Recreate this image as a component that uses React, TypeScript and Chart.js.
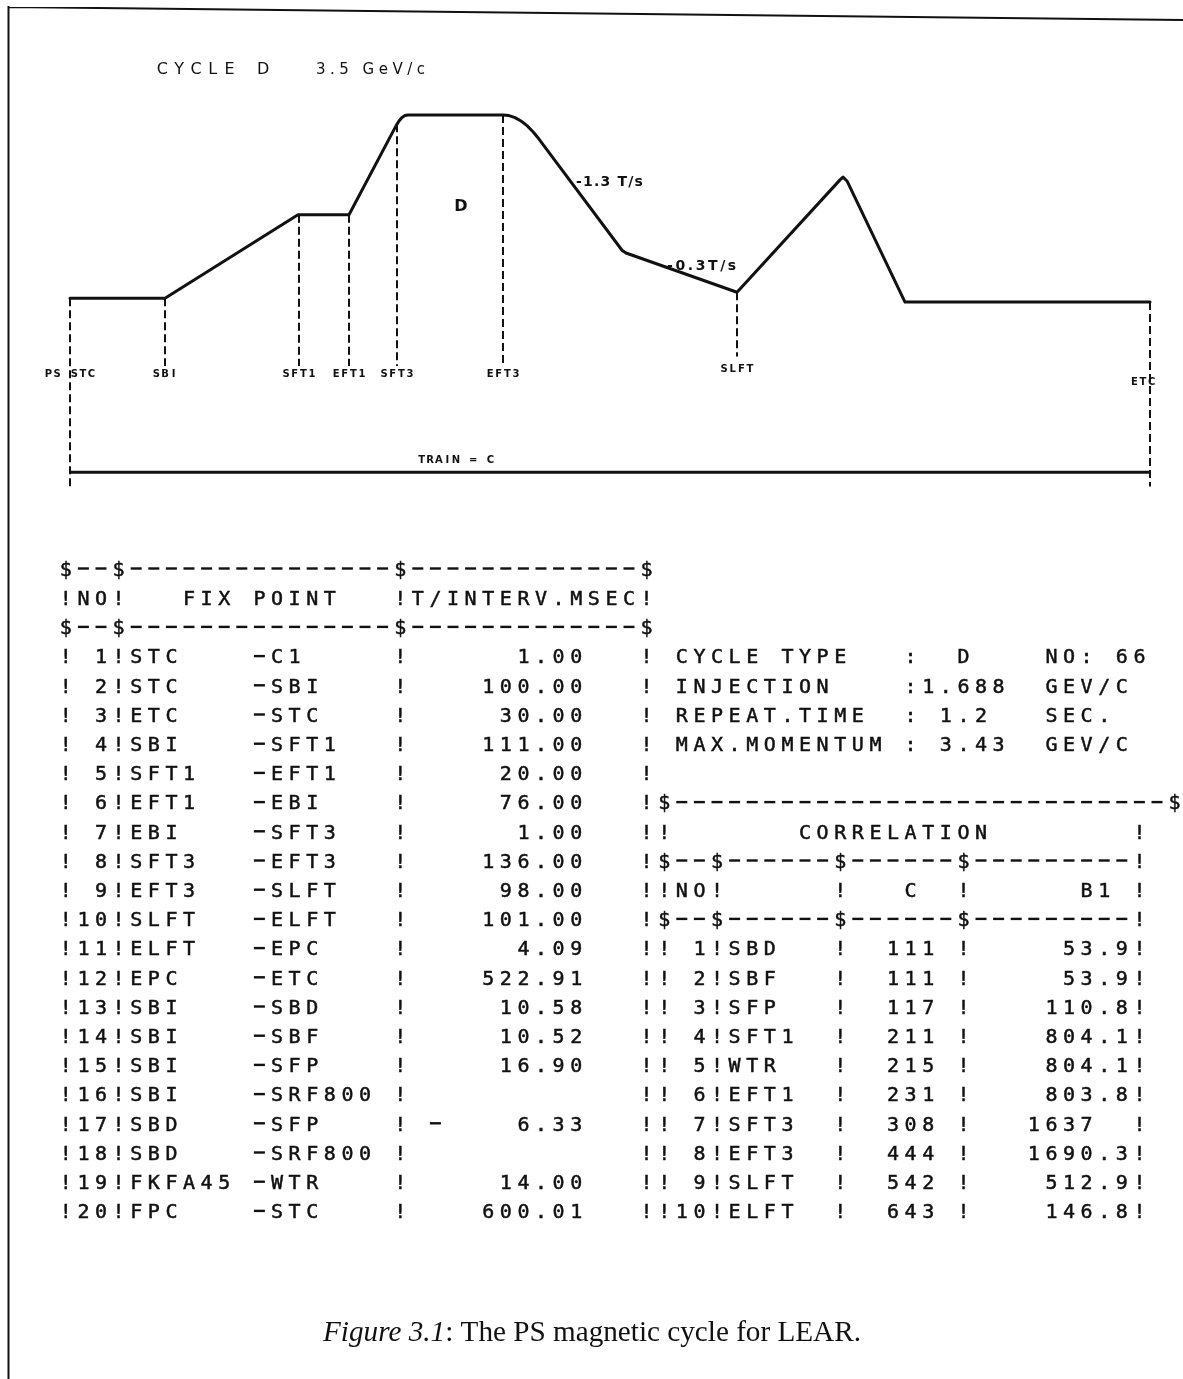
import React, { useEffect, useRef } from "react";
import { Chart, registerables } from "chart.js";
Chart.register(...registerables);

// ---------------- cycle curve (schematic time axis, field level) ----------------
const cycleTime = [0, 95, 228, 279, 326, 329, 332, 335, 338, 433, 439, 445, 451, 457, 463, 469, 552, 556, 667, 770, 773, 777, 835, 1080];
const cycleField = [0.07, 0.07, 1.6, 1.6, 3.23, 3.32, 3.385, 3.42, 3.43, 3.43, 3.418, 3.381, 3.32, 3.234, 3.123, 2.988, 0.95, 0.9, 0.18, 2.24, 2.29, 2.22, 0, 0];

// fix-point markers (dashed verticals)
const markerNames = ["PS STC", "SBI", "SFT1", "EFT1", "SFT3", "EFT3", "SLFT", "ETC"];
const markerTime = [0, 95, 229, 279, 327, 433, 667, 1080];
const markerTop = [0.07, 0.07, 1.6, 1.6, 3.26, 3.43, 0.18, 0];
const markerBottom = [-3.42, -1.17, -1.17, -1.17, -1.17, -1.17, -1.0, -3.38];
const markerLabelLevel = [-1.3, -1.3, -1.3, -1.3, -1.3, -1.3, -1.21, -1.45];

// repetition span arrow
const spanTime = [0, 1080];
const spanLevel = -3.12;
const spanLabel = "TRAIN = C";
const spanLabelTime = 386;
const spanLabelLevel = -2.88;

// ramp-rate annotations
const rateLabels = ["-1.3 T/s", "-0.3T/s"];
const rateTime = [506, 597];
const rateLevel = [2.22, 0.68];
const flatTopLabel = "D";
const flatTopTime = 391;
const flatTopLevel = 1.78;

// ---------------- left table: fix points ----------------
const fixFrom = ["STC", "STC", "ETC", "SBI", "SFT1", "EFT1", "EBI", "SFT3", "EFT3", "SLFT", "ELFT", "EPC", "SBI", "SBI", "SBI", "SBI", "SBD", "SBD", "FKFA45", "FPC"];
const fixTo = ["C1", "SBI", "STC", "SFT1", "EFT1", "EBI", "SFT3", "EFT3", "SLFT", "ELFT", "EPC", "ETC", "SBD", "SBF", "SFP", "SRF800", "SFP", "SRF800", "WTR", "STC"];
const intervalMs: (number | null)[] = [1.0, 100.0, 30.0, 111.0, 20.0, 76.0, 1.0, 136.0, 98.0, 101.0, 4.09, 522.91, 10.58, 10.52, 16.9, null, 6.33, null, 14.0, 600.01];

// ---------------- right block: cycle info ----------------
const infoLabels = ["CYCLE TYPE", "INJECTION", "REPEAT.TIME", "MAX.MOMENTUM"];
const infoValues = ["  D", "1.688", " 1.2", " 3.43"];
const infoUnits = ["NO:", "GEV/C", "SEC.", "GEV/C"];
const cycleNumber = 66;

// ---------------- correlation table ----------------
const corrNames = ["SBD", "SBF", "SFP", "SFT1", "WTR", "EFT1", "SFT3", "EFT3", "SLFT", "ELFT"];
const corrC = [111, 111, 117, 211, 215, 231, 308, 444, 542, 643];
const corrB1 = [53.9, 53.9, 110.8, 804.1, 804.1, 803.8, 1637, 1690.3, 512.9, 146.8];

const W = 1183;
const H = 1379;
const INK = "#111";
const MONO = "'DejaVu Sans Mono', 'Liberation Mono', monospace";
const SANS = "'DejaVu Sans', 'Liberation Sans', sans-serif";
const SERIF = "'Liberation Serif', 'DejaVu Serif', serif";

const GRID_X0 = 57;
const CELL = 17.6;
const ROW_Y0 = 568.5;
const ROW_H = 29.2;

function buildTableLines(): string[] {
  const rows: string[][] = [];
  for (let k = 0; k < 23; k++) rows.push(new Array(64).fill(" "));
  const put = (k: number, col: number, s: string) => {
    for (let i = 0; i < s.length; i++) rows[k][col + i] = s[i];
  };
  const sep = "$--$" + "-".repeat(15) + "$" + "-".repeat(13) + "$";
  put(0, 0, sep);
  put(1, 0, "!NO!   FIX POINT   !T/INTERV.MSEC!");
  put(2, 0, sep);
  for (let i = 0; i < fixFrom.length; i++) {
    const v = intervalMs[i];
    const val = v === null ? "" : v.toFixed(2);
    const line =
      "!" + String(i + 1).padStart(2) + "!" + fixFrom[i].padEnd(7) + "-" + fixTo[i].padEnd(7) + "!" + val.padStart(10) + "   !";
    put(3 + i, 0, line);
  }
  // stray printer mark in row 17
  put(3 + 16, 21, "-");
  // info block
  for (let i = 0; i < infoLabels.length; i++) {
    put(3 + i, 35, infoLabels[i]);
    put(3 + i, 48, ":");
    put(3 + i, 49, infoValues[i]);
    put(3 + i, 56, infoUnits[i]);
  }
  put(3, 60, String(cycleNumber));
  // correlation
  put(8, 34, "$" + "-".repeat(28) + "$");
  put(9, 34, "!");
  put(9, 42, "CORRELATION");
  put(9, 61, "!");
  const csep = "$--$------$------$---------!";
  put(10, 34, csep);
  put(11, 34, "!NO!      !   C  !      B1 !");
  put(12, 34, csep);
  for (let i = 0; i < corrNames.length; i++) {
    const b = corrB1[i];
    const bs = Number.isInteger(b) ? String(b).padEnd(6) : b.toFixed(1);
    const line = "!" + String(i + 1).padStart(2) + "!" + corrNames[i].padEnd(6) + "!  " + String(corrC[i]) + " !" + bs.padStart(9) + "!";
    put(13 + i, 34, line);
  }
  return rows.map((r) => r.join(""));
}

function drawCells(ctx: CanvasRenderingContext2D, text: string, x0: number, cell: number, baseline: number) {
  ctx.textAlign = "center";
  for (let i = 0; i < text.length; i++) {
    if (text[i] !== " ") ctx.fillText(text[i], x0 + (i + 0.5) * cell, baseline);
  }
}

function drawSpaced(ctx: CanvasRenderingContext2D, text: string, x: number, baseline: number, extra: number) {
  ctx.textAlign = "left";
  let cx = x;
  for (const ch of text) {
    ctx.fillText(ch, cx, baseline);
    cx += ctx.measureText(ch).width + extra;
  }
}

const figurePlugin = {
  id: "figure",
  beforeDraw(chart: any) {
    const ctx: CanvasRenderingContext2D = chart.ctx;
    ctx.save();
    ctx.fillStyle = "#fff";
    ctx.fillRect(0, 0, W, H);
    ctx.restore();
  },
  afterDatasetsDraw(chart: any) {
    const ctx: CanvasRenderingContext2D = chart.ctx;
    const xs = chart.scales.x;
    const ys = chart.scales.y;
    ctx.save();
    ctx.fillStyle = INK;
    ctx.strokeStyle = INK;
    ctx.textBaseline = "alphabetic";

    // page frame (left and top rules)
    ctx.lineWidth = 2;
    ctx.beginPath();
    ctx.moveTo(8.5, 6);
    ctx.lineTo(8.5, H);
    ctx.moveTo(8, 7);
    ctx.lineTo(W, 20);
    ctx.stroke();

    // title
    ctx.font = `16px ${SANS}`;
    drawCells(ctx, "CYCLE D", 154, 16.8, 74);
    ctx.font = `15px ${SANS}`;
    drawSpaced(ctx, "3.5 GeV/c", 316, 74, 4.5);

    // flat-top label
    ctx.font = `bold 16px ${SANS}`;
    ctx.textAlign = "center";
    ctx.fillText(flatTopLabel, xs.getPixelForValue(flatTopTime), ys.getPixelForValue(flatTopLevel) + 6);

    // ramp rates
    ctx.font = `bold 14px ${SANS}`;
    const rateSpacing = [1.2, 2.6];
    for (let i = 0; i < rateLabels.length; i++) {
      drawSpaced(ctx, rateLabels[i], xs.getPixelForValue(rateTime[i]), ys.getPixelForValue(rateLevel[i]) + 5.5, rateSpacing[i]);
    }

    // marker labels
    ctx.font = `bold 10px ${SANS}`;
    for (let i = 0; i < markerNames.length; i++) {
      const cx = xs.getPixelForValue(markerTime[i]) - (i === markerNames.length - 1 ? 7 : 0);
      const n = markerNames[i].length;
      drawCells(ctx, markerNames[i], cx - (n * 8.6) / 2, 8.6, ys.getPixelForValue(markerLabelLevel[i]) + 4);
    }
    // span label
    {
      const n = spanLabel.length;
      const cx = xs.getPixelForValue(spanLabelTime);
      drawCells(ctx, spanLabel, cx - (n * 8.6) / 2, 8.6, ys.getPixelForValue(spanLabelLevel) + 4);
    }

    // tables
    ctx.font = `20px ${MONO}`;
    ctx.lineWidth = 0.5;
    const lines = buildTableLines();
    lines.forEach((line, k) => {
      const yc = ROW_Y0 + k * ROW_H;
      for (let i = 0; i < line.length; i++) {
        const ch = line[i];
        if (ch === " ") continue;
        const cx = GRID_X0 + (i + 0.5) * CELL;
        if (ch === "-") {
          ctx.fillRect(cx - 5.5, yc - 1.2, 11, 2.4);
        } else {
          ctx.textAlign = "center";
          ctx.fillText(ch, cx, yc + 7.3);
          ctx.strokeText(ch, cx, yc + 7.3);
        }
      }
    });

    // caption
    const part1 = "Figure 3.1";
    const part2 = ": The PS magnetic cycle for LEAR.";
    ctx.font = `italic 100px ${SERIF}`;
    const a = ctx.measureText(part1).width;
    ctx.font = `100px ${SERIF}`;
    const b = ctx.measureText(part2).width;
    const fs = (538 / (a + b)) * 100;
    const startX = 592 - 269;
    ctx.textAlign = "left";
    ctx.font = `italic ${fs}px ${SERIF}`;
    ctx.fillText(part1, startX, 1341);
    ctx.font = `${fs}px ${SERIF}`;
    ctx.fillText(part2, startX + (a * fs) / 100, 1341);

    ctx.restore();
  },
};

export default function App() {
  const ref = useRef<HTMLCanvasElement>(null);
  useEffect(() => {
    const canvas = ref.current;
    if (!canvas) return;
    const lineStyle = { borderColor: INK, backgroundColor: INK, pointRadius: 0, showLine: true, tension: 0, clip: false as any };
    const datasets: any[] = [
      {
        ...lineStyle,
        label: "cycle",
        data: cycleTime.map((t, i) => ({ x: t, y: cycleField[i] })),
        borderWidth: 3,
        borderJoinStyle: "round",
        borderCapStyle: "round",
      },
      ...markerTime.map((t, i) => ({
        ...lineStyle,
        label: markerNames[i],
        data: [
          { x: t, y: markerTop[i] },
          { x: t, y: markerBottom[i] },
        ],
        borderWidth: 2,
        borderDash: [8, 4],
      })),
      {
        ...lineStyle,
        label: "span",
        data: spanTime.map((t) => ({ x: t, y: spanLevel })),
        borderWidth: 3,
      },
    ];
    const chart = new Chart(canvas, {
      type: "scatter",
      data: { datasets },
      options: {
        responsive: false,
        animation: false,
        devicePixelRatio: 1,
        events: [],
        layout: { padding: { left: 70, right: W - 1150, top: 97.5, bottom: H - 493 } },
        plugins: { legend: { display: false }, tooltip: { enabled: false }, title: { display: false } },
        scales: {
          x: { type: "linear", min: 0, max: 1080, display: false },
          y: { type: "linear", min: -3.5, max: 3.75, display: false },
        },
      },
      plugins: [figurePlugin],
    } as any);
    return () => chart.destroy();
  }, []);
  return (
    <div style={{ position: "absolute", left: 0, top: 0, width: W, height: H, background: "#fff" }}>
      <canvas ref={ref} width={W} height={H} style={{ display: "block", width: W, height: H }} />
    </div>
  );
}
